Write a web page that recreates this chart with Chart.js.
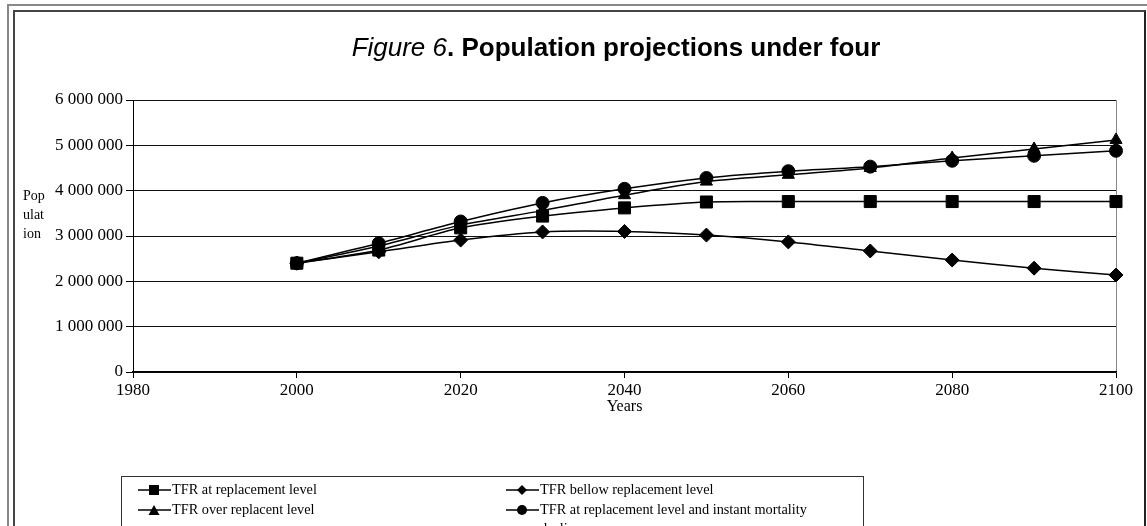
<!DOCTYPE html>
<html>
<head>
<meta charset="utf-8">
<script src="https://cdn.jsdelivr.net/npm/chart.js@4.4.0/dist/chart.umd.min.js"></script>
<style>
  html, body { margin: 0; padding: 0; background: #fff; }
  body { width: 1147px; height: 526px; position: relative; overflow: hidden; }
  #mycanvas { position: absolute; left: 0; top: 0; }
  .frame-outer { position: absolute; left: 7px; top: 4px; width: 1200px; height: 600px;
    border-left: 2px solid #888; border-top: 2px solid #888; }
  .frame-inner { position: absolute; left: 13px; top: 10px; width: 1129px; height: 600px;
    border-left: 2px solid #444; border-top: 2px solid #444; border-right: 2px solid #222; }
  .title { position: absolute; left: 0; top: 32px; width: 1232px; text-align: center;
    font-family: "Liberation Sans", Arial, sans-serif; font-size: 26px; line-height: 30px; color: #000; }
  .ytitle { position: absolute; left: 23px; top: 186px; font-family: "Liberation Serif", serif;
    font-size: 14px; line-height: 19px; color: #000; }
  .legend { position: absolute; left: 121px; top: 476px; width: 741px; height: 80px;
    border: 1px solid #333; font-family: "Liberation Serif", serif; font-size: 14.3px; color: #000; }
  .item { position: absolute; height: 14px; line-height: 14px; white-space: nowrap; }
  .item svg { position: absolute; left: 0; top: 0; }
  .item span { position: absolute; left: 34px; top: -1px; }
</style>
</head>
<body>
<div class="frame-outer"></div>
<div class="frame-inner"></div>
<canvas id="mycanvas" width="1147" height="526"></canvas>
<div class="title"><i>Figure 6</i><b>. Population projections under four</b></div>
<div class="ytitle">Pop<br>ulat<br>ion</div>
<div class="legend" id="legend"></div>

<script>
// years and population values
var years = [2000, 2010, 2020, 2030, 2040, 2050, 2060, 2070, 2080, 2090, 2100];
var replacement = [2400000, 2690000, 3180000, 3440000, 3620000, 3750000, 3760000, 3760000, 3760000, 3760000, 3760000];
var bellow = [2400000, 2650000, 2910000, 3090000, 3100000, 3020000, 2870000, 2670000, 2470000, 2290000, 2140000];
var over = [2400000, 2780000, 3240000, 3560000, 3900000, 4200000, 4350000, 4500000, 4720000, 4920000, 5120000];
var instant = [2400000, 2840000, 3320000, 3730000, 4040000, 4280000, 4430000, 4530000, 4660000, 4770000, 4880000];

var xTicks = [1980, 2000, 2020, 2040, 2060, 2080, 2100];
var seriesNames = ['TFR at replacement level', 'TFR bellow replacement level',
                   'TFR over replacent level', 'TFR at replacement level and instant mortality decline'];

function pairs(vals) {
  var out = [];
  for (var i in years) {
    out.push({x: years[i], y: vals[i]});
  }
  return out;
}

function series(label, vals, style, radius, order) {
  return {
    label: label,
    data: pairs(vals),
    borderColor: '#000',
    backgroundColor: '#000',
    borderWidth: 1.5,
    pointStyle: style,
    pointRadius: radius,
    pointBorderWidth: 1,
    pointBackgroundColor: '#000',
    pointBorderColor: '#000',
    tension: 0.3,
    clip: false,
    order: order
  };
}

var ctx = document.getElementById('mycanvas').getContext('2d');

var lineChart = new Chart(ctx, {
  type: 'line',
  data: {
    datasets: [
      series(seriesNames[0], replacement, 'rect', 8.5, 4),
      series(seriesNames[1], bellow, 'rectRot', 7, 3),
      series(seriesNames[2], over, 'triangle', 7, 2),
      series(seriesNames[3], instant, 'circle', 6.5, 1)
    ]
  },
  options: {
    responsive: false,
    animation: false,
    events: [],
    layout: { padding: { left: 0, top: 100, right: 31, bottom: 110 } },
    plugins: {
      legend: { display: false },
      title: { display: false },
      tooltip: { enabled: false }
    },
    scales: {
      x: {
        type: 'linear',
        min: 1980,
        max: 2100,
        afterFit: function(scale) { scale.height = 44; },
        afterBuildTicks: function(scale) {
          scale.ticks = xTicks.map(function(v) { return {value: v}; });
        },
        ticks: {
          padding: 2,
          color: '#000',
          font: { family: '"Liberation Serif", serif', size: 17 },
          callback: function(v) { return String(v); }
        },
        grid: {
          drawOnChartArea: true,
          color: function(c) { return (c.tick && c.tick.value === 2100) ? '#8a8a8a' : 'rgba(0,0,0,0)'; },
          tickColor: '#000',
          tickLength: 6
        },
        border: { color: '#000', width: 1.5 },
        title: {
          display: true,
          text: 'Years',
          color: '#000',
          padding: 0,
          font: { family: '"Liberation Serif", serif', size: 16 }
        }
      },
      y: {
        min: 0,
        max: 6000000,
        afterFit: function(scale) { scale.width = 133; },
        ticks: {
          stepSize: 1000000,
          padding: 3,
          color: '#000',
          font: { family: '"Liberation Serif", serif', size: 17 },
          callback: function(v) { return String(v).replace(/\B(?=(\d{3})+(?!\d))/g, ' '); }
        },
        grid: { color: '#111', lineWidth: 1, tickColor: '#000', tickLength: 7 },
        border: { color: '#000', width: 1 }
      }
    }
  }
});

// legend, laid out as two columns like the original
var legendPos = [[16, 6], [384, 6], [16, 26], [384, 26]];
var markers = [
  '<rect x="11" y="2" width="10" height="10" fill="#000"/>',
  '<polygon points="16,2 21,7 16,12 11,7" fill="#000"/>',
  '<polygon points="16,2 21.5,12 10.5,12" fill="#000"/>',
  '<circle cx="16" cy="7" r="5" fill="#000"/>'
];
var legendHtml = '';
for (var i in seriesNames) {
  legendHtml += '<div class="item" style="left:' + legendPos[i][0] + 'px;top:' + legendPos[i][1] + 'px">' +
    '<svg width="34" height="14"><line x1="0" y1="7" x2="33" y2="7" stroke="#000" stroke-width="1.3"/>' +
    markers[i] + '</svg><span' + (i == 3 ? ' style="white-space:normal;width:290px;line-height:19px;top:-3px"' : '') + '>' +
    seriesNames[i] + '</span></div>';
}
document.getElementById('legend').innerHTML = legendHtml;
</script>
</body>
</html>
